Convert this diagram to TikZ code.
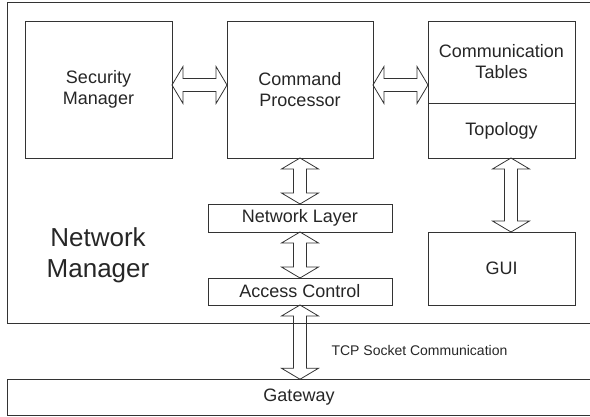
\documentclass[tikz,border=0pt]{standalone}
\usepackage{fontspec}
\setmainfont{Liberation Sans}
\usetikzlibrary{positioning, calc}

\tikzset{
  block/.style={draw=black!80, line width=0.8pt, fill=white, inner sep=0pt, outer sep=0pt,
    align=center, text=black!85, font=\fontsize{18}{21}\selectfont},
  arrowline/.style={draw=black!80, line width=0.8pt, line join=miter}
}
% open double arrow from one point to another
\newcommand{\twoway}[2]{%
  \draw[arrowline] let \p1=(#1), \p2=(#2),
      \n1={veclen(\x2-\x1,\y2-\y1)}, \n2={atan2(\y2-\y1,\x2-\x1)} in
    [shift={(\p1)}, rotate=\n2] (0pt,0pt) -- (11pt,18.5pt) -- (11pt,6.5pt)
    -- ({\n1*1pt-11pt},6.5pt) -- ({\n1*1pt-11pt},18.5pt) -- ({\n1*1pt},0pt)
    -- ({\n1*1pt-11pt},-18.5pt) -- ({\n1*1pt-11pt},-6.5pt) -- (11pt,-6.5pt)
    -- (11pt,-18.5pt) -- cycle;}

\begin{document}
\begin{tikzpicture}[x=1pt, y=-1pt]
	\clip (0,0) rectangle (590,416);
	% outer boxes
	\draw[black!80, line width=0.8pt] (600,2.5) -- (7,2.5) -- (7,323) -- (600,323);
	\node[block, minimum width=584pt, minimum height=36.5pt] (gw) at (299,397.5) {Gateway};
	\node[text=black!85, align=center, font=\fontsize{26}{31}\selectfont] (nm) at (98,255) {Network\\Manager};
	\node[text=black!85, anchor=west, font=\fontsize{14}{16}\selectfont] (tcp) at (328,350) {TCP Socket Communication};

	% inner blocks
	\node[block, minimum width=147pt, minimum height=137pt] (sec) at (98.5,89.5) {Security\\Manager};
	\node[block, minimum width=146pt, minimum height=137pt, right=55pt of sec] (cmd) {Command\\Processor};
	\node[block, minimum width=147pt, minimum height=82pt, anchor=north west] (tab) at (428,21) {Communication\\Tables};
	\node[block, minimum width=147pt, minimum height=55pt, below=0pt of tab] (topo) {Topology};
	\node[block, minimum width=184pt, minimum height=28pt, below=46pt of cmd] (net) {Network Layer};
	\node[block, minimum width=184pt, minimum height=27pt, below=46pt of net] (acc) {Access Control};
	\node[block, minimum width=147pt, minimum height=73pt, below=74pt of topo] (gui) {GUI};

	% connectors
	\coordinate (sh) at ([yshift=4.5pt]sec.east);
	\coordinate (ch) at ([yshift=4.5pt]cmd.east);
	\coordinate (tv) at ([xshift=9.5pt]topo.south);
	\foreach \from/\to in {sh/sh -| cmd.west, ch/ch -| tab.west, cmd.south/net.north,
	    net.south/acc.north, acc.south/acc.south |- gw.north, tv/tv |- gui.north}
		\twoway{\from}{\to};
\end{tikzpicture}
\end{document}
